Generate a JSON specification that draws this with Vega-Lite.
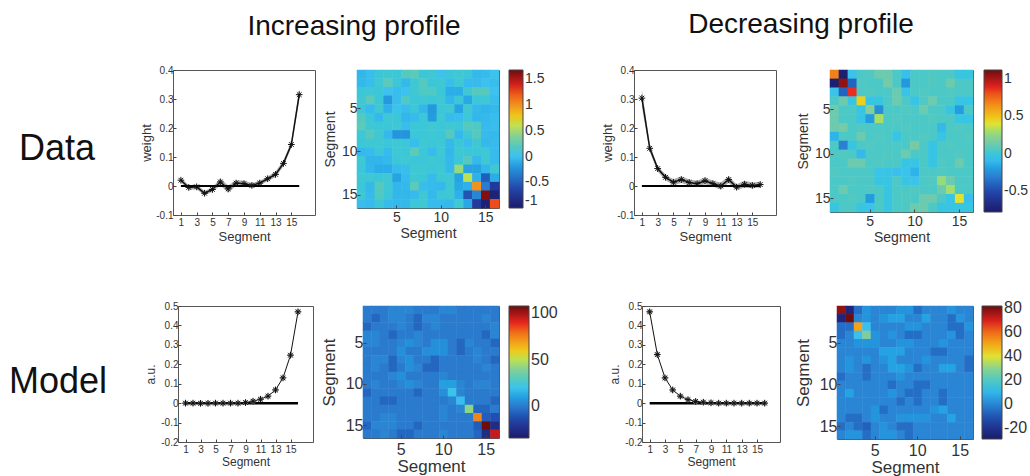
{
"$schema":"https://vega.github.io/schema/vega-lite/v6.json",
"background":"white",
"padding":{"left":0,"top":10,"right":0,"bottom":0},
"config":{
 "font":"Liberation Sans",
 "view":{"stroke":null},
 "axis":{"grid":false,"domain":false,"labelColor":"#333","titleColor":"#333","tickColor":"#444","titleFontWeight":"normal","tickSize":-3,"labelPadding":3,"labelOverlap":false},
 "legend":{"labelOverlap":false,"gradientStrokeColor":"#444","gradientStrokeWidth":1,"labelColor":"#333"},
 "title":{"fontWeight":"normal","color":"#111"}
},
"datasets":{
"l1":[{"s":1,"w":0.02,"lo":0.012,"hi":0.028},{"s":2,"w":-0.005,"lo":-0.013,"hi":0.003},{"s":3,"w":-0.003,"lo":-0.011,"hi":0.005},{"s":4,"w":-0.025,"lo":-0.033,"hi":-0.017},{"s":5,"w":-0.012,"lo":-0.02,"hi":-0.004},{"s":6,"w":0.014,"lo":0.002,"hi":0.026},{"s":7,"w":-0.01,"lo":-0.022,"hi":0.002},{"s":8,"w":0.01,"lo":0,"hi":0.02},{"s":9,"w":0.008,"lo":-0.002,"hi":0.018},{"s":10,"w":0.002,"lo":-0.006,"hi":0.01},{"s":11,"w":0.01,"lo":0.002,"hi":0.018},{"s":12,"w":0.025,"lo":0.017,"hi":0.033},{"s":13,"w":0.04,"lo":0.03,"hi":0.05},{"s":14,"w":0.078,"lo":0.068,"hi":0.088},{"s":15,"w":0.143,"lo":0.133,"hi":0.153},{"s":16,"w":0.315,"lo":0.295,"hi":0.335}],
"l2":[{"s":1,"w":0.303,"lo":0.273,"hi":0.333},{"s":2,"w":0.13,"lo":0.118,"hi":0.142},{"s":3,"w":0.06,"lo":0.05,"hi":0.07},{"s":4,"w":0.03,"lo":0.02,"hi":0.04},{"s":5,"w":0.013,"lo":0.003,"hi":0.023},{"s":6,"w":0.022,"lo":0.01,"hi":0.034},{"s":7,"w":0.012,"lo":0.002,"hi":0.022},{"s":8,"w":0.008,"lo":-0.002,"hi":0.018},{"s":9,"w":0.018,"lo":0.006,"hi":0.03},{"s":10,"w":0.008,"lo":-0.002,"hi":0.018},{"s":11,"w":0,"lo":-0.012,"hi":0.012},{"s":12,"w":0.022,"lo":0.01,"hi":0.034},{"s":13,"w":-0.004,"lo":-0.014,"hi":0.006},{"s":14,"w":0.006,"lo":-0.006,"hi":0.018},{"s":15,"w":0.002,"lo":-0.008,"hi":0.012},{"s":16,"w":0.005,"lo":-0.005,"hi":0.015}],
"l3":[{"s":1,"w":0},{"s":2,"w":0},{"s":3,"w":-0.001},{"s":4,"w":-0.001},{"s":5,"w":0},{"s":6,"w":0},{"s":7,"w":0},{"s":8,"w":0},{"s":9,"w":0.003},{"s":10,"w":0.01},{"s":11,"w":0.02},{"s":12,"w":0.036},{"s":13,"w":0.068},{"s":14,"w":0.13},{"s":15,"w":0.247},{"s":16,"w":0.47}],
"l4":[{"s":1,"w":0.47},{"s":2,"w":0.25},{"s":3,"w":0.13},{"s":4,"w":0.068},{"s":5,"w":0.036},{"s":6,"w":0.018},{"s":7,"w":0.009},{"s":8,"w":0.005},{"s":9,"w":0.002},{"s":10,"w":0},{"s":11,"w":0},{"s":12,"w":0},{"s":13,"w":0},{"s":14,"w":0},{"s":15,"w":0},{"s":16,"w":0}],
"h1":[
{"r":1,"c":1,"v":-0.05},{"r":1,"c":2,"v":-0.02},{"r":1,"c":3,"v":0.1},{"r":1,"c":4,"v":0.12},{"r":1,"c":5,"v":0.1},{"r":1,"c":6,"v":0.2},{"r":1,"c":7,"v":0.22},{"r":1,"c":8,"v":0.1},{"r":1,"c":9,"v":0.12},{"r":1,"c":10,"v":0},{"r":1,"c":11,"v":0.1},{"r":1,"c":12,"v":0.12},{"r":1,"c":13,"v":0.1},{"r":1,"c":14,"v":-0.04},{"r":1,"c":15,"v":-0.03},{"r":1,"c":16,"v":0.02},
{"r":2,"c":1,"v":-0.04},{"r":2,"c":2,"v":-0.02},{"r":2,"c":3,"v":0.12},{"r":2,"c":4,"v":0.22},{"r":2,"c":5,"v":0.1},{"r":2,"c":6,"v":-0.04},{"r":2,"c":7,"v":0.12},{"r":2,"c":8,"v":0.2},{"r":2,"c":9,"v":0.1},{"r":2,"c":10,"v":0.12},{"r":2,"c":11,"v":-0.02},{"r":2,"c":12,"v":0.12},{"r":2,"c":13,"v":-0.03},{"r":2,"c":14,"v":-0.03},{"r":2,"c":15,"v":0},{"r":2,"c":16,"v":-0.02},
{"r":3,"c":1,"v":0.1},{"r":3,"c":2,"v":0.12},{"r":3,"c":3,"v":0.1},{"r":3,"c":4,"v":0},{"r":3,"c":5,"v":-0.02},{"r":3,"c":6,"v":0},{"r":3,"c":7,"v":0.12},{"r":3,"c":8,"v":0.18},{"r":3,"c":9,"v":0.18},{"r":3,"c":10,"v":0.1},{"r":3,"c":11,"v":-0.1},{"r":3,"c":12,"v":-0.1},{"r":3,"c":13,"v":0.12},{"r":3,"c":14,"v":0.2},{"r":3,"c":15,"v":0.2},{"r":3,"c":16,"v":0},
{"r":4,"c":1,"v":0.12},{"r":4,"c":2,"v":0.22},{"r":4,"c":3,"v":0.1},{"r":4,"c":4,"v":-0.2},{"r":4,"c":5,"v":-0.02},{"r":4,"c":6,"v":0.18},{"r":4,"c":7,"v":0.1},{"r":4,"c":8,"v":0.12},{"r":4,"c":9,"v":0.1},{"r":4,"c":10,"v":0.12},{"r":4,"c":11,"v":-0.05},{"r":4,"c":12,"v":0.1},{"r":4,"c":13,"v":-0.12},{"r":4,"c":14,"v":0.1},{"r":4,"c":15,"v":0.12},{"r":4,"c":16,"v":-0.02},
{"r":5,"c":1,"v":0.1},{"r":5,"c":2,"v":-0.03},{"r":5,"c":3,"v":0.12},{"r":5,"c":4,"v":-0.08},{"r":5,"c":5,"v":0.02},{"r":5,"c":6,"v":-0.02},{"r":5,"c":7,"v":0.1},{"r":5,"c":8,"v":-0.05},{"r":5,"c":9,"v":-0.2},{"r":5,"c":10,"v":0.1},{"r":5,"c":11,"v":0.12},{"r":5,"c":12,"v":-0.15},{"r":5,"c":13,"v":0.12},{"r":5,"c":14,"v":-0.04},{"r":5,"c":15,"v":-0.06},{"r":5,"c":16,"v":-0.04},
{"r":6,"c":1,"v":0.2},{"r":6,"c":2,"v":0.1},{"r":6,"c":3,"v":-0.04},{"r":6,"c":4,"v":0.12},{"r":6,"c":5,"v":0.1},{"r":6,"c":6,"v":-0.05},{"r":6,"c":7,"v":-0.03},{"r":6,"c":8,"v":0.1},{"r":6,"c":9,"v":-0.18},{"r":6,"c":10,"v":0.12},{"r":6,"c":11,"v":-0.03},{"r":6,"c":12,"v":-0.02},{"r":6,"c":13,"v":0.1},{"r":6,"c":14,"v":-0.05},{"r":6,"c":15,"v":-0.04},{"r":6,"c":16,"v":-0.02},
{"r":7,"c":1,"v":0.22},{"r":7,"c":2,"v":0.12},{"r":7,"c":3,"v":0.1},{"r":7,"c":4,"v":0.1},{"r":7,"c":5,"v":0.12},{"r":7,"c":6,"v":-0.02},{"r":7,"c":7,"v":0.1},{"r":7,"c":8,"v":0.1},{"r":7,"c":9,"v":0.12},{"r":7,"c":10,"v":0.1},{"r":7,"c":11,"v":0.12},{"r":7,"c":12,"v":0.1},{"r":7,"c":13,"v":0.2},{"r":7,"c":14,"v":0.18},{"r":7,"c":15,"v":-0.03},{"r":7,"c":16,"v":-0.02},
{"r":8,"c":1,"v":0.12},{"r":8,"c":2,"v":0.2},{"r":8,"c":3,"v":0.12},{"r":8,"c":4,"v":-0.04},{"r":8,"c":5,"v":-0.22},{"r":8,"c":6,"v":-0.22},{"r":8,"c":7,"v":0.1},{"r":8,"c":8,"v":0.1},{"r":8,"c":9,"v":0.12},{"r":8,"c":10,"v":0.1},{"r":8,"c":11,"v":0.2},{"r":8,"c":12,"v":-0.04},{"r":8,"c":13,"v":0.12},{"r":8,"c":14,"v":0.2},{"r":8,"c":15,"v":-0.03},{"r":8,"c":16,"v":-0.04},
{"r":9,"c":1,"v":0.1},{"r":9,"c":2,"v":0.12},{"r":9,"c":3,"v":0.12},{"r":9,"c":4,"v":0.1},{"r":9,"c":5,"v":0.12},{"r":9,"c":6,"v":0.1},{"r":9,"c":7,"v":-0.02},{"r":9,"c":8,"v":0.12},{"r":9,"c":9,"v":0.1},{"r":9,"c":10,"v":0.12},{"r":9,"c":11,"v":-0.04},{"r":9,"c":12,"v":0.1},{"r":9,"c":13,"v":-0.02},{"r":9,"c":14,"v":0.12},{"r":9,"c":15,"v":-0.04},{"r":9,"c":16,"v":-0.03},
{"r":10,"c":1,"v":-0.04},{"r":10,"c":2,"v":-0.03},{"r":10,"c":3,"v":0.1},{"r":10,"c":4,"v":-0.03},{"r":10,"c":5,"v":0.12},{"r":10,"c":6,"v":0.1},{"r":10,"c":7,"v":0.22},{"r":10,"c":8,"v":0.1},{"r":10,"c":9,"v":-0.03},{"r":10,"c":10,"v":0.12},{"r":10,"c":11,"v":-0.05},{"r":10,"c":12,"v":0.12},{"r":10,"c":13,"v":0.1},{"r":10,"c":14,"v":0.1},{"r":10,"c":15,"v":0.12},{"r":10,"c":16,"v":-0.03},
{"r":11,"c":1,"v":0.12},{"r":11,"c":2,"v":-0.06},{"r":11,"c":3,"v":-0.06},{"r":11,"c":4,"v":-0.04},{"r":11,"c":5,"v":0.1},{"r":11,"c":6,"v":0.12},{"r":11,"c":7,"v":0.1},{"r":11,"c":8,"v":0.1},{"r":11,"c":9,"v":0.12},{"r":11,"c":10,"v":0.1},{"r":11,"c":11,"v":-0.04},{"r":11,"c":12,"v":0.1},{"r":11,"c":13,"v":0.2},{"r":11,"c":14,"v":-0.04},{"r":11,"c":15,"v":0.12},{"r":11,"c":16,"v":-0.03},
{"r":12,"c":1,"v":0.1},{"r":12,"c":2,"v":-0.05},{"r":12,"c":3,"v":-0.1},{"r":12,"c":4,"v":-0.1},{"r":12,"c":5,"v":-0.03},{"r":12,"c":6,"v":-0.02},{"r":12,"c":7,"v":0.12},{"r":12,"c":8,"v":0.12},{"r":12,"c":9,"v":0.1},{"r":12,"c":10,"v":0.12},{"r":12,"c":11,"v":-0.04},{"r":12,"c":12,"v":0.48},{"r":12,"c":13,"v":-0.15},{"r":12,"c":14,"v":-0.15},{"r":12,"c":15,"v":-0.05},{"r":12,"c":16,"v":0.12},
{"r":13,"c":1,"v":0.12},{"r":13,"c":2,"v":0.12},{"r":13,"c":3,"v":0.1},{"r":13,"c":4,"v":0.12},{"r":13,"c":5,"v":-0.15},{"r":13,"c":6,"v":-0.03},{"r":13,"c":7,"v":0.12},{"r":13,"c":8,"v":0.1},{"r":13,"c":9,"v":-0.03},{"r":13,"c":10,"v":0.12},{"r":13,"c":11,"v":0.12},{"r":13,"c":12,"v":-0.15},{"r":13,"c":13,"v":0.59},{"r":13,"c":14,"v":-0.08},{"r":13,"c":15,"v":-0.5},{"r":13,"c":16,"v":-0.1},
{"r":14,"c":1,"v":0.1},{"r":14,"c":2,"v":-0.04},{"r":14,"c":3,"v":0.2},{"r":14,"c":4,"v":0.12},{"r":14,"c":5,"v":-0.05},{"r":14,"c":6,"v":-0.04},{"r":14,"c":7,"v":0.22},{"r":14,"c":8,"v":-0.02},{"r":14,"c":9,"v":-0.03},{"r":14,"c":10,"v":-0.04},{"r":14,"c":11,"v":0.12},{"r":14,"c":12,"v":-0.12},{"r":14,"c":13,"v":-0.08},{"r":14,"c":14,"v":1.01},{"r":14,"c":15,"v":-0.35},{"r":14,"c":16,"v":-0.72},
{"r":15,"c":1,"v":0.12},{"r":15,"c":2,"v":-0.03},{"r":15,"c":3,"v":0.18},{"r":15,"c":4,"v":0.1},{"r":15,"c":5,"v":-0.05},{"r":15,"c":6,"v":-0.05},{"r":15,"c":7,"v":-0.03},{"r":15,"c":8,"v":0.12},{"r":15,"c":9,"v":-0.04},{"r":15,"c":10,"v":0.1},{"r":15,"c":11,"v":0.12},{"r":15,"c":12,"v":-0.08},{"r":15,"c":13,"v":-0.55},{"r":15,"c":14,"v":-0.3},{"r":15,"c":15,"v":1.62},{"r":15,"c":16,"v":-0.92},
{"r":16,"c":1,"v":-0.02},{"r":16,"c":2,"v":-0.03},{"r":16,"c":3,"v":0.1},{"r":16,"c":4,"v":-0.03},{"r":16,"c":5,"v":-0.04},{"r":16,"c":6,"v":-0.04},{"r":16,"c":7,"v":0.1},{"r":16,"c":8,"v":0.12},{"r":16,"c":9,"v":-0.03},{"r":16,"c":10,"v":-0.03},{"r":16,"c":11,"v":-0.04},{"r":16,"c":12,"v":0.12},{"r":16,"c":13,"v":-0.12},{"r":16,"c":14,"v":-0.7},{"r":16,"c":15,"v":-0.95},{"r":16,"c":16,"v":1.25}
],
"h2":[
{"r":1,"c":1,"v":0.69},{"r":1,"c":2,"v":-0.75},{"r":1,"c":3,"v":-0.05},{"r":1,"c":4,"v":0.05},{"r":1,"c":5,"v":0.06},{"r":1,"c":6,"v":0.12},{"r":1,"c":7,"v":0.12},{"r":1,"c":8,"v":0.05},{"r":1,"c":9,"v":-0.08},{"r":1,"c":10,"v":0.05},{"r":1,"c":11,"v":0.05},{"r":1,"c":12,"v":0.06},{"r":1,"c":13,"v":0.05},{"r":1,"c":14,"v":0.05},{"r":1,"c":15,"v":-0.03},{"r":1,"c":16,"v":-0.02},
{"r":2,"c":1,"v":-0.75},{"r":2,"c":2,"v":1.05},{"r":2,"c":3,"v":-0.4},{"r":2,"c":4,"v":0.06},{"r":2,"c":5,"v":0.05},{"r":2,"c":6,"v":0.05},{"r":2,"c":7,"v":0.14},{"r":2,"c":8,"v":0.05},{"r":2,"c":9,"v":-0.22},{"r":2,"c":10,"v":0.05},{"r":2,"c":11,"v":0.05},{"r":2,"c":12,"v":0.06},{"r":2,"c":13,"v":0.05},{"r":2,"c":14,"v":0.12},{"r":2,"c":15,"v":0.05},{"r":2,"c":16,"v":0.05},
{"r":3,"c":1,"v":-0.05},{"r":3,"c":2,"v":-0.4},{"r":3,"c":3,"v":0.87},{"r":3,"c":4,"v":0.05},{"r":3,"c":5,"v":0.06},{"r":3,"c":6,"v":0.05},{"r":3,"c":7,"v":0.05},{"r":3,"c":8,"v":0.12},{"r":3,"c":9,"v":-0.04},{"r":3,"c":10,"v":0.05},{"r":3,"c":11,"v":0.06},{"r":3,"c":12,"v":0.05},{"r":3,"c":13,"v":0.05},{"r":3,"c":14,"v":0.06},{"r":3,"c":15,"v":0.05},{"r":3,"c":16,"v":0.05},
{"r":4,"c":1,"v":0.05},{"r":4,"c":2,"v":0.12},{"r":4,"c":3,"v":-0.03},{"r":4,"c":4,"v":0.46},{"r":4,"c":5,"v":-0.04},{"r":4,"c":6,"v":-0.02},{"r":4,"c":7,"v":0.05},{"r":4,"c":8,"v":0.12},{"r":4,"c":9,"v":0.05},{"r":4,"c":10,"v":-0.04},{"r":4,"c":11,"v":0.06},{"r":4,"c":12,"v":0.12},{"r":4,"c":13,"v":0.05},{"r":4,"c":14,"v":0.05},{"r":4,"c":15,"v":-0.04},{"r":4,"c":16,"v":-0.03},
{"r":5,"c":1,"v":0.12},{"r":5,"c":2,"v":0.05},{"r":5,"c":3,"v":0.05},{"r":5,"c":4,"v":-0.04},{"r":5,"c":5,"v":0.2},{"r":5,"c":6,"v":-0.25},{"r":5,"c":7,"v":0.05},{"r":5,"c":8,"v":0.05},{"r":5,"c":9,"v":0.06},{"r":5,"c":10,"v":0.05},{"r":5,"c":11,"v":0.12},{"r":5,"c":12,"v":0.05},{"r":5,"c":13,"v":0.05},{"r":5,"c":14,"v":-0.03},{"r":5,"c":15,"v":-0.2},{"r":5,"c":16,"v":0.05},
{"r":6,"c":1,"v":0.12},{"r":6,"c":2,"v":0.05},{"r":6,"c":3,"v":0.05},{"r":6,"c":4,"v":-0.04},{"r":6,"c":5,"v":-0.2},{"r":6,"c":6,"v":0.31},{"r":6,"c":7,"v":0.05},{"r":6,"c":8,"v":0.06},{"r":6,"c":9,"v":0.05},{"r":6,"c":10,"v":0.05},{"r":6,"c":11,"v":0.05},{"r":6,"c":12,"v":0.06},{"r":6,"c":13,"v":0.05},{"r":6,"c":14,"v":0.05},{"r":6,"c":15,"v":-0.04},{"r":6,"c":16,"v":-0.03},
{"r":7,"c":1,"v":0.12},{"r":7,"c":2,"v":0.14},{"r":7,"c":3,"v":0.05},{"r":7,"c":4,"v":0.06},{"r":7,"c":5,"v":0.05},{"r":7,"c":6,"v":0.05},{"r":7,"c":7,"v":0.05},{"r":7,"c":8,"v":0.05},{"r":7,"c":9,"v":0.06},{"r":7,"c":10,"v":0.05},{"r":7,"c":11,"v":0.05},{"r":7,"c":12,"v":0.05},{"r":7,"c":13,"v":-0.1},{"r":7,"c":14,"v":0.05},{"r":7,"c":15,"v":0.06},{"r":7,"c":16,"v":0.05},
{"r":8,"c":1,"v":-0.12},{"r":8,"c":2,"v":0.05},{"r":8,"c":3,"v":0.05},{"r":8,"c":4,"v":0.12},{"r":8,"c":5,"v":0.05},{"r":8,"c":6,"v":0.06},{"r":8,"c":7,"v":0.05},{"r":8,"c":8,"v":-0.04},{"r":8,"c":9,"v":0.05},{"r":8,"c":10,"v":0.05},{"r":8,"c":11,"v":0.06},{"r":8,"c":12,"v":0.05},{"r":8,"c":13,"v":-0.04},{"r":8,"c":14,"v":0.05},{"r":8,"c":15,"v":0.05},{"r":8,"c":16,"v":0.06},
{"r":9,"c":1,"v":0.05},{"r":9,"c":2,"v":-0.3},{"r":9,"c":3,"v":-0.03},{"r":9,"c":4,"v":0.05},{"r":9,"c":5,"v":0.06},{"r":9,"c":6,"v":0.05},{"r":9,"c":7,"v":0.05},{"r":9,"c":8,"v":0.05},{"r":9,"c":9,"v":0.05},{"r":9,"c":10,"v":0.15},{"r":9,"c":11,"v":0.05},{"r":9,"c":12,"v":-0.04},{"r":9,"c":13,"v":0.05},{"r":9,"c":14,"v":0.06},{"r":9,"c":15,"v":0.05},{"r":9,"c":16,"v":0.05},
{"r":10,"c":1,"v":0.05},{"r":10,"c":2,"v":0.06},{"r":10,"c":3,"v":0.05},{"r":10,"c":4,"v":-0.1},{"r":10,"c":5,"v":0.05},{"r":10,"c":6,"v":0.05},{"r":10,"c":7,"v":0.06},{"r":10,"c":8,"v":0.05},{"r":10,"c":9,"v":0.12},{"r":10,"c":10,"v":0.05},{"r":10,"c":11,"v":0.05},{"r":10,"c":12,"v":-0.04},{"r":10,"c":13,"v":0.05},{"r":10,"c":14,"v":0.05},{"r":10,"c":15,"v":0.06},{"r":10,"c":16,"v":0.05},
{"r":11,"c":1,"v":0.05},{"r":11,"c":2,"v":0.05},{"r":11,"c":3,"v":0.12},{"r":11,"c":4,"v":0.12},{"r":11,"c":5,"v":0.05},{"r":11,"c":6,"v":0.06},{"r":11,"c":7,"v":0.05},{"r":11,"c":8,"v":0.05},{"r":11,"c":9,"v":-0.04},{"r":11,"c":10,"v":-0.04},{"r":11,"c":11,"v":0.05},{"r":11,"c":12,"v":-0.03},{"r":11,"c":13,"v":0.06},{"r":11,"c":14,"v":0.05},{"r":11,"c":15,"v":0.12},{"r":11,"c":16,"v":0.05},
{"r":12,"c":1,"v":0.06},{"r":12,"c":2,"v":0.05},{"r":12,"c":3,"v":0.05},{"r":12,"c":4,"v":0.05},{"r":12,"c":5,"v":0.05},{"r":12,"c":6,"v":-0.05},{"r":12,"c":7,"v":-0.04},{"r":12,"c":8,"v":-0.08},{"r":12,"c":9,"v":-0.05},{"r":12,"c":10,"v":-0.12},{"r":12,"c":11,"v":0.05},{"r":12,"c":12,"v":0.05},{"r":12,"c":13,"v":0.06},{"r":12,"c":14,"v":0.05},{"r":12,"c":15,"v":0.05},{"r":12,"c":16,"v":0.05},
{"r":13,"c":1,"v":0.05},{"r":13,"c":2,"v":0.05},{"r":13,"c":3,"v":0.06},{"r":13,"c":4,"v":0.05},{"r":13,"c":5,"v":0.05},{"r":13,"c":6,"v":-0.04},{"r":13,"c":7,"v":-0.03},{"r":13,"c":8,"v":0.05},{"r":13,"c":9,"v":-0.04},{"r":13,"c":10,"v":-0.05},{"r":13,"c":11,"v":0.05},{"r":13,"c":12,"v":0.06},{"r":13,"c":13,"v":0.27},{"r":13,"c":14,"v":0.12},{"r":13,"c":15,"v":0.05},{"r":13,"c":16,"v":0.05},
{"r":14,"c":1,"v":0.05},{"r":14,"c":2,"v":0.12},{"r":14,"c":3,"v":0.05},{"r":14,"c":4,"v":0.05},{"r":14,"c":5,"v":0.06},{"r":14,"c":6,"v":0.05},{"r":14,"c":7,"v":-0.03},{"r":14,"c":8,"v":0.05},{"r":14,"c":9,"v":0.05},{"r":14,"c":10,"v":0.06},{"r":14,"c":11,"v":0.05},{"r":14,"c":12,"v":0.05},{"r":14,"c":13,"v":0.12},{"r":14,"c":14,"v":0.3},{"r":14,"c":15,"v":0.05},{"r":14,"c":16,"v":0.05},
{"r":15,"c":1,"v":0.05},{"r":15,"c":2,"v":0.05},{"r":15,"c":3,"v":0.06},{"r":15,"c":4,"v":0.05},{"r":15,"c":5,"v":-0.2},{"r":15,"c":6,"v":0.05},{"r":15,"c":7,"v":-0.03},{"r":15,"c":8,"v":0.05},{"r":15,"c":9,"v":0.06},{"r":15,"c":10,"v":0.05},{"r":15,"c":11,"v":0.12},{"r":15,"c":12,"v":0.12},{"r":15,"c":13,"v":0.05},{"r":15,"c":14,"v":-0.04},{"r":15,"c":15,"v":0.4},{"r":15,"c":16,"v":-0.08},
{"r":16,"c":1,"v":-0.03},{"r":16,"c":2,"v":0.05},{"r":16,"c":3,"v":0.05},{"r":16,"c":4,"v":-0.03},{"r":16,"c":5,"v":-0.05},{"r":16,"c":6,"v":0.05},{"r":16,"c":7,"v":-0.03},{"r":16,"c":8,"v":0.05},{"r":16,"c":9,"v":0.05},{"r":16,"c":10,"v":0.12},{"r":16,"c":11,"v":0.12},{"r":16,"c":12,"v":0.05},{"r":16,"c":13,"v":-0.03},{"r":16,"c":14,"v":-0.03},{"r":16,"c":15,"v":-0.04},{"r":16,"c":16,"v":-0.03}
],
"h3":[
{"r":1,"c":1,"v":0},{"r":1,"c":2,"v":0},{"r":1,"c":3,"v":0},{"r":1,"c":4,"v":3},{"r":1,"c":5,"v":3},{"r":1,"c":6,"v":3},{"r":1,"c":7,"v":0},{"r":1,"c":8,"v":0},{"r":1,"c":9,"v":0},{"r":1,"c":10,"v":3},{"r":1,"c":11,"v":3},{"r":1,"c":12,"v":0},{"r":1,"c":13,"v":0},{"r":1,"c":14,"v":0},{"r":1,"c":15,"v":0},{"r":1,"c":16,"v":0},
{"r":2,"c":1,"v":0},{"r":2,"c":2,"v":-5},{"r":2,"c":3,"v":0},{"r":2,"c":4,"v":3},{"r":2,"c":5,"v":3},{"r":2,"c":6,"v":0},{"r":2,"c":7,"v":-5},{"r":2,"c":8,"v":3},{"r":2,"c":9,"v":3},{"r":2,"c":10,"v":0},{"r":2,"c":11,"v":0},{"r":2,"c":12,"v":0},{"r":2,"c":13,"v":0},{"r":2,"c":14,"v":0},{"r":2,"c":15,"v":3},{"r":2,"c":16,"v":0},
{"r":3,"c":1,"v":-5},{"r":3,"c":2,"v":0},{"r":3,"c":3,"v":0},{"r":3,"c":4,"v":0},{"r":3,"c":5,"v":3},{"r":3,"c":6,"v":0},{"r":3,"c":7,"v":-5},{"r":3,"c":8,"v":0},{"r":3,"c":9,"v":3},{"r":3,"c":10,"v":0},{"r":3,"c":11,"v":0},{"r":3,"c":12,"v":0},{"r":3,"c":13,"v":0},{"r":3,"c":14,"v":0},{"r":3,"c":15,"v":0},{"r":3,"c":16,"v":3},
{"r":4,"c":1,"v":3},{"r":4,"c":2,"v":3},{"r":4,"c":3,"v":0},{"r":4,"c":4,"v":-5},{"r":4,"c":5,"v":0},{"r":4,"c":6,"v":0},{"r":4,"c":7,"v":3},{"r":4,"c":8,"v":0},{"r":4,"c":9,"v":0},{"r":4,"c":10,"v":0},{"r":4,"c":11,"v":0},{"r":4,"c":12,"v":0},{"r":4,"c":13,"v":0},{"r":4,"c":14,"v":0},{"r":4,"c":15,"v":-5},{"r":4,"c":16,"v":3},
{"r":5,"c":1,"v":3},{"r":5,"c":2,"v":3},{"r":5,"c":3,"v":0},{"r":5,"c":4,"v":0},{"r":5,"c":5,"v":3},{"r":5,"c":6,"v":6},{"r":5,"c":7,"v":3},{"r":5,"c":8,"v":0},{"r":5,"c":9,"v":6},{"r":5,"c":10,"v":6},{"r":5,"c":11,"v":0},{"r":5,"c":12,"v":-5},{"r":5,"c":13,"v":3},{"r":5,"c":14,"v":0},{"r":5,"c":15,"v":0},{"r":5,"c":16,"v":-5},
{"r":6,"c":1,"v":0},{"r":6,"c":2,"v":0},{"r":6,"c":3,"v":0},{"r":6,"c":4,"v":0},{"r":6,"c":5,"v":6},{"r":6,"c":6,"v":0},{"r":6,"c":7,"v":0},{"r":6,"c":8,"v":6},{"r":6,"c":9,"v":6},{"r":6,"c":10,"v":6},{"r":6,"c":11,"v":0},{"r":6,"c":12,"v":-5},{"r":6,"c":13,"v":0},{"r":6,"c":14,"v":3},{"r":6,"c":15,"v":0},{"r":6,"c":16,"v":0},
{"r":7,"c":1,"v":0},{"r":7,"c":2,"v":3},{"r":7,"c":3,"v":3},{"r":7,"c":4,"v":-5},{"r":7,"c":5,"v":3},{"r":7,"c":6,"v":6},{"r":7,"c":7,"v":0},{"r":7,"c":8,"v":0},{"r":7,"c":9,"v":-5},{"r":7,"c":10,"v":0},{"r":7,"c":11,"v":0},{"r":7,"c":12,"v":0},{"r":7,"c":13,"v":0},{"r":7,"c":14,"v":3},{"r":7,"c":15,"v":0},{"r":7,"c":16,"v":-5},
{"r":8,"c":1,"v":0},{"r":8,"c":2,"v":3},{"r":8,"c":3,"v":0},{"r":8,"c":4,"v":-5},{"r":8,"c":5,"v":0},{"r":8,"c":6,"v":6},{"r":8,"c":7,"v":3},{"r":8,"c":8,"v":-5},{"r":8,"c":9,"v":-5},{"r":8,"c":10,"v":0},{"r":8,"c":11,"v":0},{"r":8,"c":12,"v":0},{"r":8,"c":13,"v":0},{"r":8,"c":14,"v":0},{"r":8,"c":15,"v":3},{"r":8,"c":16,"v":0},
{"r":9,"c":1,"v":0},{"r":9,"c":2,"v":0},{"r":9,"c":3,"v":0},{"r":9,"c":4,"v":3},{"r":9,"c":5,"v":6},{"r":9,"c":6,"v":0},{"r":9,"c":7,"v":0},{"r":9,"c":8,"v":0},{"r":9,"c":9,"v":0},{"r":9,"c":10,"v":3},{"r":9,"c":11,"v":0},{"r":9,"c":12,"v":0},{"r":9,"c":13,"v":0},{"r":9,"c":14,"v":0},{"r":9,"c":15,"v":0},{"r":9,"c":16,"v":0},
{"r":10,"c":1,"v":0},{"r":10,"c":2,"v":3},{"r":10,"c":3,"v":0},{"r":10,"c":4,"v":0},{"r":10,"c":5,"v":3},{"r":10,"c":6,"v":6},{"r":10,"c":7,"v":3},{"r":10,"c":8,"v":0},{"r":10,"c":9,"v":0},{"r":10,"c":10,"v":10},{"r":10,"c":11,"v":10},{"r":10,"c":12,"v":3},{"r":10,"c":13,"v":0},{"r":10,"c":14,"v":3},{"r":10,"c":15,"v":3},{"r":10,"c":16,"v":0},
{"r":11,"c":1,"v":-5},{"r":11,"c":2,"v":0},{"r":11,"c":3,"v":0},{"r":11,"c":4,"v":0},{"r":11,"c":5,"v":0},{"r":11,"c":6,"v":0},{"r":11,"c":7,"v":-5},{"r":11,"c":8,"v":0},{"r":11,"c":9,"v":0},{"r":11,"c":10,"v":6},{"r":11,"c":11,"v":20},{"r":11,"c":12,"v":3},{"r":11,"c":13,"v":0},{"r":11,"c":14,"v":0},{"r":11,"c":15,"v":0},{"r":11,"c":16,"v":0},
{"r":12,"c":1,"v":0},{"r":12,"c":2,"v":0},{"r":12,"c":3,"v":-5},{"r":12,"c":4,"v":-5},{"r":12,"c":5,"v":0},{"r":12,"c":6,"v":0},{"r":12,"c":7,"v":0},{"r":12,"c":8,"v":0},{"r":12,"c":9,"v":0},{"r":12,"c":10,"v":0},{"r":12,"c":11,"v":3},{"r":12,"c":12,"v":18},{"r":12,"c":13,"v":0},{"r":12,"c":14,"v":0},{"r":12,"c":15,"v":0},{"r":12,"c":16,"v":-5},
{"r":13,"c":1,"v":0},{"r":13,"c":2,"v":0},{"r":13,"c":3,"v":0},{"r":13,"c":4,"v":0},{"r":13,"c":5,"v":0},{"r":13,"c":6,"v":0},{"r":13,"c":7,"v":0},{"r":13,"c":8,"v":0},{"r":13,"c":9,"v":0},{"r":13,"c":10,"v":3},{"r":13,"c":11,"v":0},{"r":13,"c":12,"v":3},{"r":13,"c":13,"v":42},{"r":13,"c":14,"v":-5},{"r":13,"c":15,"v":-5},{"r":13,"c":16,"v":0},
{"r":14,"c":1,"v":0},{"r":14,"c":2,"v":0},{"r":14,"c":3,"v":3},{"r":14,"c":4,"v":3},{"r":14,"c":5,"v":0},{"r":14,"c":6,"v":0},{"r":14,"c":7,"v":0},{"r":14,"c":8,"v":0},{"r":14,"c":9,"v":0},{"r":14,"c":10,"v":3},{"r":14,"c":11,"v":0},{"r":14,"c":12,"v":0},{"r":14,"c":13,"v":0},{"r":14,"c":14,"v":75},{"r":14,"c":15,"v":-8},{"r":14,"c":16,"v":-12},
{"r":15,"c":1,"v":-5},{"r":15,"c":2,"v":3},{"r":15,"c":3,"v":3},{"r":15,"c":4,"v":3},{"r":15,"c":5,"v":0},{"r":15,"c":6,"v":0},{"r":15,"c":7,"v":-5},{"r":15,"c":8,"v":0},{"r":15,"c":9,"v":0},{"r":15,"c":10,"v":0},{"r":15,"c":11,"v":0},{"r":15,"c":12,"v":0},{"r":15,"c":13,"v":0},{"r":15,"c":14,"v":-8},{"r":15,"c":15,"v":108},{"r":15,"c":16,"v":-25},
{"r":16,"c":1,"v":0},{"r":16,"c":2,"v":0},{"r":16,"c":3,"v":3},{"r":16,"c":4,"v":0},{"r":16,"c":5,"v":-5},{"r":16,"c":6,"v":-5},{"r":16,"c":7,"v":0},{"r":16,"c":8,"v":0},{"r":16,"c":9,"v":0},{"r":16,"c":10,"v":3},{"r":16,"c":11,"v":0},{"r":16,"c":12,"v":0},{"r":16,"c":13,"v":0},{"r":16,"c":14,"v":-5},{"r":16,"c":15,"v":-25},{"r":16,"c":16,"v":95}
],
"h4":[
{"r":1,"c":1,"v":78},{"r":1,"c":2,"v":-25},{"r":1,"c":3,"v":-5},{"r":1,"c":4,"v":3},{"r":1,"c":5,"v":0},{"r":1,"c":6,"v":0},{"r":1,"c":7,"v":0},{"r":1,"c":8,"v":3},{"r":1,"c":9,"v":3},{"r":1,"c":10,"v":-5},{"r":1,"c":11,"v":0},{"r":1,"c":12,"v":0},{"r":1,"c":13,"v":0},{"r":1,"c":14,"v":3},{"r":1,"c":15,"v":0},{"r":1,"c":16,"v":0},
{"r":2,"c":1,"v":-25},{"r":2,"c":2,"v":82},{"r":2,"c":3,"v":0},{"r":2,"c":4,"v":3},{"r":2,"c":5,"v":0},{"r":2,"c":6,"v":3},{"r":2,"c":7,"v":6},{"r":2,"c":8,"v":6},{"r":2,"c":9,"v":0},{"r":2,"c":10,"v":0},{"r":2,"c":11,"v":6},{"r":2,"c":12,"v":0},{"r":2,"c":13,"v":0},{"r":2,"c":14,"v":-5},{"r":2,"c":15,"v":3},{"r":2,"c":16,"v":0},
{"r":3,"c":1,"v":-5},{"r":3,"c":2,"v":-5},{"r":3,"c":3,"v":51},{"r":3,"c":4,"v":12},{"r":3,"c":5,"v":0},{"r":3,"c":6,"v":0},{"r":3,"c":7,"v":0},{"r":3,"c":8,"v":0},{"r":3,"c":9,"v":3},{"r":3,"c":10,"v":3},{"r":3,"c":11,"v":0},{"r":3,"c":12,"v":0},{"r":3,"c":13,"v":0},{"r":3,"c":14,"v":-5},{"r":3,"c":15,"v":-5},{"r":3,"c":16,"v":3},
{"r":4,"c":1,"v":-5},{"r":4,"c":2,"v":0},{"r":4,"c":3,"v":12},{"r":4,"c":4,"v":27},{"r":4,"c":5,"v":3},{"r":4,"c":6,"v":0},{"r":4,"c":7,"v":3},{"r":4,"c":8,"v":0},{"r":4,"c":9,"v":-5},{"r":4,"c":10,"v":-5},{"r":4,"c":11,"v":0},{"r":4,"c":12,"v":0},{"r":4,"c":13,"v":0},{"r":4,"c":14,"v":3},{"r":4,"c":15,"v":-5},{"r":4,"c":16,"v":0},
{"r":5,"c":1,"v":0},{"r":5,"c":2,"v":0},{"r":5,"c":3,"v":3},{"r":5,"c":4,"v":3},{"r":5,"c":5,"v":3},{"r":5,"c":6,"v":0},{"r":5,"c":7,"v":0},{"r":5,"c":8,"v":3},{"r":5,"c":9,"v":3},{"r":5,"c":10,"v":0},{"r":5,"c":11,"v":0},{"r":5,"c":12,"v":0},{"r":5,"c":13,"v":3},{"r":5,"c":14,"v":0},{"r":5,"c":15,"v":0},{"r":5,"c":16,"v":0},
{"r":6,"c":1,"v":0},{"r":6,"c":2,"v":0},{"r":6,"c":3,"v":0},{"r":6,"c":4,"v":0},{"r":6,"c":5,"v":0},{"r":6,"c":6,"v":6},{"r":6,"c":7,"v":6},{"r":6,"c":8,"v":6},{"r":6,"c":9,"v":0},{"r":6,"c":10,"v":0},{"r":6,"c":11,"v":0},{"r":6,"c":12,"v":-5},{"r":6,"c":13,"v":-5},{"r":6,"c":14,"v":0},{"r":6,"c":15,"v":0},{"r":6,"c":16,"v":0},
{"r":7,"c":1,"v":0},{"r":7,"c":2,"v":3},{"r":7,"c":3,"v":0},{"r":7,"c":4,"v":3},{"r":7,"c":5,"v":0},{"r":7,"c":6,"v":3},{"r":7,"c":7,"v":6},{"r":7,"c":8,"v":0},{"r":7,"c":9,"v":0},{"r":7,"c":10,"v":0},{"r":7,"c":11,"v":3},{"r":7,"c":12,"v":0},{"r":7,"c":13,"v":0},{"r":7,"c":14,"v":0},{"r":7,"c":15,"v":0},{"r":7,"c":16,"v":-5},
{"r":8,"c":1,"v":0},{"r":8,"c":2,"v":3},{"r":8,"c":3,"v":0},{"r":8,"c":4,"v":-5},{"r":8,"c":5,"v":0},{"r":8,"c":6,"v":0},{"r":8,"c":7,"v":6},{"r":8,"c":8,"v":6},{"r":8,"c":9,"v":3},{"r":8,"c":10,"v":-5},{"r":8,"c":11,"v":0},{"r":8,"c":12,"v":0},{"r":8,"c":13,"v":6},{"r":8,"c":14,"v":6},{"r":8,"c":15,"v":0},{"r":8,"c":16,"v":-5},
{"r":9,"c":1,"v":-5},{"r":9,"c":2,"v":0},{"r":9,"c":3,"v":0},{"r":9,"c":4,"v":-5},{"r":9,"c":5,"v":0},{"r":9,"c":6,"v":0},{"r":9,"c":7,"v":0},{"r":9,"c":8,"v":3},{"r":9,"c":9,"v":0},{"r":9,"c":10,"v":0},{"r":9,"c":11,"v":0},{"r":9,"c":12,"v":0},{"r":9,"c":13,"v":0},{"r":9,"c":14,"v":0},{"r":9,"c":15,"v":0},{"r":9,"c":16,"v":0},
{"r":10,"c":1,"v":0},{"r":10,"c":2,"v":0},{"r":10,"c":3,"v":0},{"r":10,"c":4,"v":0},{"r":10,"c":5,"v":0},{"r":10,"c":6,"v":0},{"r":10,"c":7,"v":-5},{"r":10,"c":8,"v":0},{"r":10,"c":9,"v":0},{"r":10,"c":10,"v":-5},{"r":10,"c":11,"v":-5},{"r":10,"c":12,"v":0},{"r":10,"c":13,"v":0},{"r":10,"c":14,"v":0},{"r":10,"c":15,"v":0},{"r":10,"c":16,"v":0},
{"r":11,"c":1,"v":0},{"r":11,"c":2,"v":6},{"r":11,"c":3,"v":0},{"r":11,"c":4,"v":0},{"r":11,"c":5,"v":0},{"r":11,"c":6,"v":0},{"r":11,"c":7,"v":3},{"r":11,"c":8,"v":0},{"r":11,"c":9,"v":-5},{"r":11,"c":10,"v":-5},{"r":11,"c":11,"v":0},{"r":11,"c":12,"v":0},{"r":11,"c":13,"v":-5},{"r":11,"c":14,"v":0},{"r":11,"c":15,"v":0},{"r":11,"c":16,"v":0},
{"r":12,"c":1,"v":0},{"r":12,"c":2,"v":0},{"r":12,"c":3,"v":0},{"r":12,"c":4,"v":0},{"r":12,"c":5,"v":0},{"r":12,"c":6,"v":0},{"r":12,"c":7,"v":0},{"r":12,"c":8,"v":-5},{"r":12,"c":9,"v":0},{"r":12,"c":10,"v":-5},{"r":12,"c":11,"v":0},{"r":12,"c":12,"v":0},{"r":12,"c":13,"v":-5},{"r":12,"c":14,"v":0},{"r":12,"c":15,"v":0},{"r":12,"c":16,"v":0},
{"r":13,"c":1,"v":0},{"r":13,"c":2,"v":0},{"r":13,"c":3,"v":0},{"r":13,"c":4,"v":0},{"r":13,"c":5,"v":3},{"r":13,"c":6,"v":-5},{"r":13,"c":7,"v":0},{"r":13,"c":8,"v":0},{"r":13,"c":9,"v":0},{"r":13,"c":10,"v":0},{"r":13,"c":11,"v":0},{"r":13,"c":12,"v":3},{"r":13,"c":13,"v":6},{"r":13,"c":14,"v":0},{"r":13,"c":15,"v":0},{"r":13,"c":16,"v":0},
{"r":14,"c":1,"v":0},{"r":14,"c":2,"v":-5},{"r":14,"c":3,"v":-5},{"r":14,"c":4,"v":0},{"r":14,"c":5,"v":3},{"r":14,"c":6,"v":0},{"r":14,"c":7,"v":0},{"r":14,"c":8,"v":3},{"r":14,"c":9,"v":3},{"r":14,"c":10,"v":3},{"r":14,"c":11,"v":3},{"r":14,"c":12,"v":0},{"r":14,"c":13,"v":0},{"r":14,"c":14,"v":6},{"r":14,"c":15,"v":0},{"r":14,"c":16,"v":0},
{"r":15,"c":1,"v":-5},{"r":15,"c":2,"v":0},{"r":15,"c":3,"v":-5},{"r":15,"c":4,"v":-8},{"r":15,"c":5,"v":0},{"r":15,"c":6,"v":3},{"r":15,"c":7,"v":0},{"r":15,"c":8,"v":-5},{"r":15,"c":9,"v":-5},{"r":15,"c":10,"v":0},{"r":15,"c":11,"v":0},{"r":15,"c":12,"v":0},{"r":15,"c":13,"v":0},{"r":15,"c":14,"v":0},{"r":15,"c":15,"v":0},{"r":15,"c":16,"v":0},
{"r":16,"c":1,"v":0},{"r":16,"c":2,"v":3},{"r":16,"c":3,"v":3},{"r":16,"c":4,"v":-5},{"r":16,"c":5,"v":0},{"r":16,"c":6,"v":3},{"r":16,"c":7,"v":3},{"r":16,"c":8,"v":0},{"r":16,"c":9,"v":-5},{"r":16,"c":10,"v":0},{"r":16,"c":11,"v":0},{"r":16,"c":12,"v":0},{"r":16,"c":13,"v":0},{"r":16,"c":14,"v":0},{"r":16,"c":15,"v":0},{"r":16,"c":16,"v":0}
]
},
"vconcat":[
{"hconcat":[
  {"width":114,"height":145,"view":{"stroke":null,"fill":"white"},"data":{"values":[{"t":"Data"}]},"mark":{"type":"text","fontSize":36,"color":"#111","dy":6},"encoding":{"text":{"field":"t"}}},
  {"width":59,"height":9,"data":{"values":[{}]},"mark":{"type":"text","text":""},"encoding":{}},
  {"width":142,"height":145,"view":{"stroke":"#555"},"data":{"name":"l1"},
   "title":{"text":"Increasing profile","fontSize":28,"dx":110,"offset":24,"anchor":"middle","frame":"group"},
   "layer":[
    {"mark":{"type":"area","color":"#9a9a9a","opacity":0.8},"encoding":{"x":{"field":"s","type":"quantitative","scale":{"domain":[0.5,16.5]},"axis":{"values":[1,3,5,7,9,11,13,15],"tickCount":30,"labelExpr":"'' + datum.value","title":"Segment","labelFontSize":10,"titleFontSize":13,"labelPadding":5,"titlePadding":3}},"y":{"field":"lo","type":"quantitative","scale":{"domain":[-0.1,0.4]},"axis":{"values":[-0.1,0,0.1,0.2,0.3,0.4],"tickCount":30,"labelExpr":"'' + datum.value","title":"weight","labelFontSize":10,"titleFontSize":13,"titlePadding":2}},"y2":{"field":"hi"}}},
    {"data":{"values":[{}]},"mark":{"type":"rule","color":"#000","strokeWidth":2},"encoding":{"x":{"datum":1},"x2":{"datum":16},"y":{"datum":0}}},
    {"mark":{"type":"line","color":"#111","strokeWidth":1.5},"encoding":{"x":{"field":"s","type":"quantitative"},"y":{"field":"w","type":"quantitative"}}},
    {"mark":{"type":"point","shape":"M-1,0H1M0,-1V1M-0.7,-0.7L0.7,0.7M-0.7,0.7L0.7,-0.7","filled":false,"color":"#111","size":45,"strokeWidth":1,"opacity":1},"encoding":{"x":{"field":"s","type":"quantitative"},"y":{"field":"w","type":"quantitative"}}}
   ]},
  {"width":42,"height":9,"data":{"values":[{}]},"mark":{"type":"text","text":""},"encoding":{}},
  {"width":142,"height":138,"view":{"stroke":"#555"},"data":{"name":"h1"},"mark":{"type":"rect","width":{"band":1.06},"height":{"band":1.06}},
   "encoding":{
    "x":{"field":"c","type":"ordinal","scale":{"paddingInner":0,"paddingOuter":0},"axis":{"values":[5,10,15],"labelAngle":0,"title":"Segment","labelFontSize":14,"titleFontSize":14,"labelPadding":5,"titlePadding":2}},
    "y":{"field":"r","type":"ordinal","scale":{"paddingInner":0,"paddingOuter":0},"axis":{"values":[5,10,15],"title":"Segment","labelFontSize":14,"titleFontSize":14,"titlePadding":4}},
    "color":{"field":"v","type":"quantitative","scale":{"domain":[-1,-0.665,-0.33,0.005,0.34,0.675,1.01,1.345,1.68],"range":["#1a1c6b","#233ea3","#2d7fd0","#3ec2ee","#82c9a0","#e6e22c","#f29020","#e8231f","#6e0d0d"]},"legend":{"type":"gradient","title":null,"values":[-1,-0.5,0,0.5,1,1.5],"labelExpr":"'' + datum.value","gradientLength":138,"gradientThickness":14,"labelFontSize":14,"offset":10}}
   }},
  {"width":135,"height":9,"data":{"values":[{}]},"mark":{"type":"text","text":""},"encoding":{}},
  {"width":142,"height":145,"view":{"stroke":"#555"},"data":{"name":"l2"},
   "title":{"text":"Decreasing profile","fontSize":28,"dx":96,"dy":-2,"offset":24,"anchor":"middle","frame":"group"},
   "layer":[
    {"mark":{"type":"area","color":"#9a9a9a","opacity":0.8},"encoding":{"x":{"field":"s","type":"quantitative","scale":{"domain":[0.5,16.5]},"axis":{"values":[1,3,5,7,9,11,13,15],"tickCount":30,"labelExpr":"'' + datum.value","title":"Segment","labelFontSize":10,"titleFontSize":13,"labelPadding":5,"titlePadding":3}},"y":{"field":"lo","type":"quantitative","scale":{"domain":[-0.1,0.4]},"axis":{"values":[-0.1,0,0.1,0.2,0.3,0.4],"tickCount":30,"labelExpr":"'' + datum.value","title":"weight","labelFontSize":10,"titleFontSize":13,"titlePadding":2}},"y2":{"field":"hi"}}},
    {"data":{"values":[{}]},"mark":{"type":"rule","color":"#000","strokeWidth":2},"encoding":{"x":{"datum":1},"x2":{"datum":16},"y":{"datum":0}}},
    {"mark":{"type":"line","color":"#111","strokeWidth":1.5},"encoding":{"x":{"field":"s","type":"quantitative"},"y":{"field":"w","type":"quantitative"}}},
    {"mark":{"type":"point","shape":"M-1,0H1M0,-1V1M-0.7,-0.7L0.7,0.7M-0.7,0.7L0.7,-0.7","filled":false,"color":"#111","size":45,"strokeWidth":1,"opacity":1},"encoding":{"x":{"field":"s","type":"quantitative"},"y":{"field":"w","type":"quantitative"}}}
   ]},
  {"width":54,"height":9,"data":{"values":[{}]},"mark":{"type":"text","text":""},"encoding":{}},
  {"width":143,"height":142,"view":{"stroke":"#555"},"data":{"name":"h2"},"mark":{"type":"rect","width":{"band":1.06},"height":{"band":1.06}},
   "encoding":{
    "x":{"field":"c","type":"ordinal","scale":{"paddingInner":0,"paddingOuter":0},"axis":{"values":[5,10,15],"labelAngle":0,"title":"Segment","labelFontSize":14,"titleFontSize":14,"labelPadding":5,"titlePadding":2}},
    "y":{"field":"r","type":"ordinal","scale":{"paddingInner":0,"paddingOuter":0},"axis":{"values":[5,10,15],"title":"Segment","labelFontSize":14,"titleFontSize":14,"titlePadding":4}},
    "color":{"field":"v","type":"quantitative","scale":{"domain":[-0.78,-0.5425,-0.305,-0.0675,0.17,0.4075,0.645,0.8825,1.12],"range":["#1a1c6b","#233ea3","#2d7fd0","#3ec2ee","#82c9a0","#e6e22c","#f29020","#e8231f","#6e0d0d"]},"legend":{"type":"gradient","title":null,"values":[-0.5,0,0.5,1],"labelExpr":"'' + datum.value","gradientLength":142,"gradientThickness":18,"labelFontSize":14,"offset":11}}
   }}
 ],"spacing":0,"bounds":"flush","resolve":{"scale":{"color":"independent"},"legend":{"color":"independent"}}},
{"hconcat":[
  {"width":116,"height":136,"view":{"stroke":null,"fill":"white"},"data":{"values":[{"t":"Model"}]},"mark":{"type":"text","fontSize":36,"color":"#111","dy":8},"encoding":{"text":{"field":"t"}}},
  {"width":62,"height":9,"data":{"values":[{}]},"mark":{"type":"text","text":""},"encoding":{}},
  {"width":135,"height":136,"view":{"stroke":"#555"},"data":{"name":"l3"},
   "layer":[
    {"data":{"values":[{}]},"mark":{"type":"rule","color":"#000","strokeWidth":2.5},"encoding":{"x":{"datum":1,"type":"quantitative","scale":{"domain":[0.5,16.5]},"axis":{"values":[1,3,5,7,9,11,13,15],"tickCount":30,"labelExpr":"'' + datum.value","title":"Segment","labelFontSize":10,"titleFontSize":12,"labelPadding":5,"titlePadding":2}},"x2":{"datum":16},"y":{"datum":0,"type":"quantitative","scale":{"domain":[-0.2,0.5]},"axis":{"values":[-0.2,-0.1,0,0.1,0.2,0.3,0.4,0.5],"tickCount":30,"labelExpr":"'' + datum.value","title":"a.u.","labelFontSize":10,"titleFontSize":12,"titlePadding":3}}}},
    {"mark":{"type":"line","color":"#111","strokeWidth":1},"encoding":{"x":{"field":"s","type":"quantitative"},"y":{"field":"w","type":"quantitative"}}},
    {"mark":{"type":"point","shape":"circle","filled":true,"color":"#999","size":30,"opacity":0.7},"encoding":{"x":{"field":"s","type":"quantitative"},"y":{"field":"w","type":"quantitative"}}},
    {"mark":{"type":"point","shape":"M-1,0H1M0,-1V1M-0.7,-0.7L0.7,0.7M-0.7,0.7L0.7,-0.7","filled":false,"color":"#111","size":45,"strokeWidth":1,"opacity":1},"encoding":{"x":{"field":"s","type":"quantitative"},"y":{"field":"w","type":"quantitative"}}}
   ]},
  {"width":50,"height":9,"data":{"values":[{}]},"mark":{"type":"text","text":""},"encoding":{}},
  {"width":136,"height":132,"view":{"stroke":"#555"},"data":{"name":"h3"},"mark":{"type":"rect","width":{"band":1.06},"height":{"band":1.06}},
   "encoding":{
    "x":{"field":"c","type":"ordinal","scale":{"paddingInner":0,"paddingOuter":0},"axis":{"values":[5,10,15],"labelAngle":0,"title":"Segment","labelFontSize":16,"titleFontSize":17,"labelPadding":6,"titlePadding":1}},
    "y":{"field":"r","type":"ordinal","scale":{"paddingInner":0,"paddingOuter":0},"axis":{"values":[5,10,15],"title":"Segment","labelFontSize":16,"titleFontSize":17,"titlePadding":7}},
    "color":{"field":"v","type":"quantitative","scale":{"domain":[-34,-16.25,1.5,19.25,37,54.75,72.5,90.25,108],"range":["#1a1c6b","#233ea3","#2d7fd0","#3ec2ee","#82c9a0","#e6e22c","#f29020","#e8231f","#6e0d0d"]},"legend":{"type":"gradient","title":null,"values":[0,50,100],"labelExpr":"'' + datum.value","gradientLength":132,"gradientThickness":20,"labelFontSize":16,"offset":10}}
   }},
  {"width":143,"height":9,"data":{"values":[{}]},"mark":{"type":"text","text":""},"encoding":{}},
  {"width":138,"height":136,"view":{"stroke":"#555"},"data":{"name":"l4"},
   "layer":[
    {"data":{"values":[{}]},"mark":{"type":"rule","color":"#000","strokeWidth":2.5},"encoding":{"x":{"datum":1,"type":"quantitative","scale":{"domain":[0.5,16.5]},"axis":{"values":[1,3,5,7,9,11,13,15],"tickCount":30,"labelExpr":"'' + datum.value","title":"Segment","labelFontSize":10,"titleFontSize":12,"labelPadding":5,"titlePadding":2}},"x2":{"datum":16},"y":{"datum":0,"type":"quantitative","scale":{"domain":[-0.2,0.5]},"axis":{"values":[-0.2,-0.1,0,0.1,0.2,0.3,0.4,0.5],"tickCount":30,"labelExpr":"'' + datum.value","title":"a.u.","labelFontSize":10,"titleFontSize":12,"titlePadding":3}}}},
    {"mark":{"type":"line","color":"#111","strokeWidth":1},"encoding":{"x":{"field":"s","type":"quantitative"},"y":{"field":"w","type":"quantitative"}}},
    {"mark":{"type":"point","shape":"circle","filled":true,"color":"#999","size":30,"opacity":0.7},"encoding":{"x":{"field":"s","type":"quantitative"},"y":{"field":"w","type":"quantitative"}}},
    {"mark":{"type":"point","shape":"M-1,0H1M0,-1V1M-0.7,-0.7L0.7,0.7M-0.7,0.7L0.7,-0.7","filled":false,"color":"#111","size":45,"strokeWidth":1,"opacity":1},"encoding":{"x":{"field":"s","type":"quantitative"},"y":{"field":"w","type":"quantitative"}}}
   ]},
  {"width":57,"height":9,"data":{"values":[{}]},"mark":{"type":"text","text":""},"encoding":{}},
  {"width":136,"height":133,"view":{"stroke":"#555"},"data":{"name":"h4"},"mark":{"type":"rect","width":{"band":1.06},"height":{"band":1.06}},
   "encoding":{
    "x":{"field":"c","type":"ordinal","scale":{"paddingInner":0,"paddingOuter":0},"axis":{"values":[5,10,15],"labelAngle":0,"title":"Segment","labelFontSize":16,"titleFontSize":17,"labelPadding":6,"titlePadding":1}},
    "y":{"field":"r","type":"ordinal","scale":{"paddingInner":0,"paddingOuter":0},"axis":{"values":[5,10,15],"title":"Segment","labelFontSize":16,"titleFontSize":17,"titlePadding":7}},
    "color":{"field":"v","type":"quantitative","scale":{"domain":[-29,-15.125,-1.25,12.625,26.5,40.375,54.25,68.125,82],"range":["#1a1c6b","#233ea3","#2d7fd0","#3ec2ee","#82c9a0","#e6e22c","#f29020","#e8231f","#6e0d0d"]},"legend":{"type":"gradient","title":null,"values":[-20,0,20,40,60,80],"labelExpr":"'' + datum.value","gradientLength":133,"gradientThickness":20,"labelFontSize":16,"offset":9}}
   }}
 ],"spacing":0,"bounds":"flush","resolve":{"scale":{"color":"independent"},"legend":{"color":"independent"}}}
],
"spacing":55,
"resolve":{"scale":{"color":"independent"},"legend":{"color":"independent"}}
}
